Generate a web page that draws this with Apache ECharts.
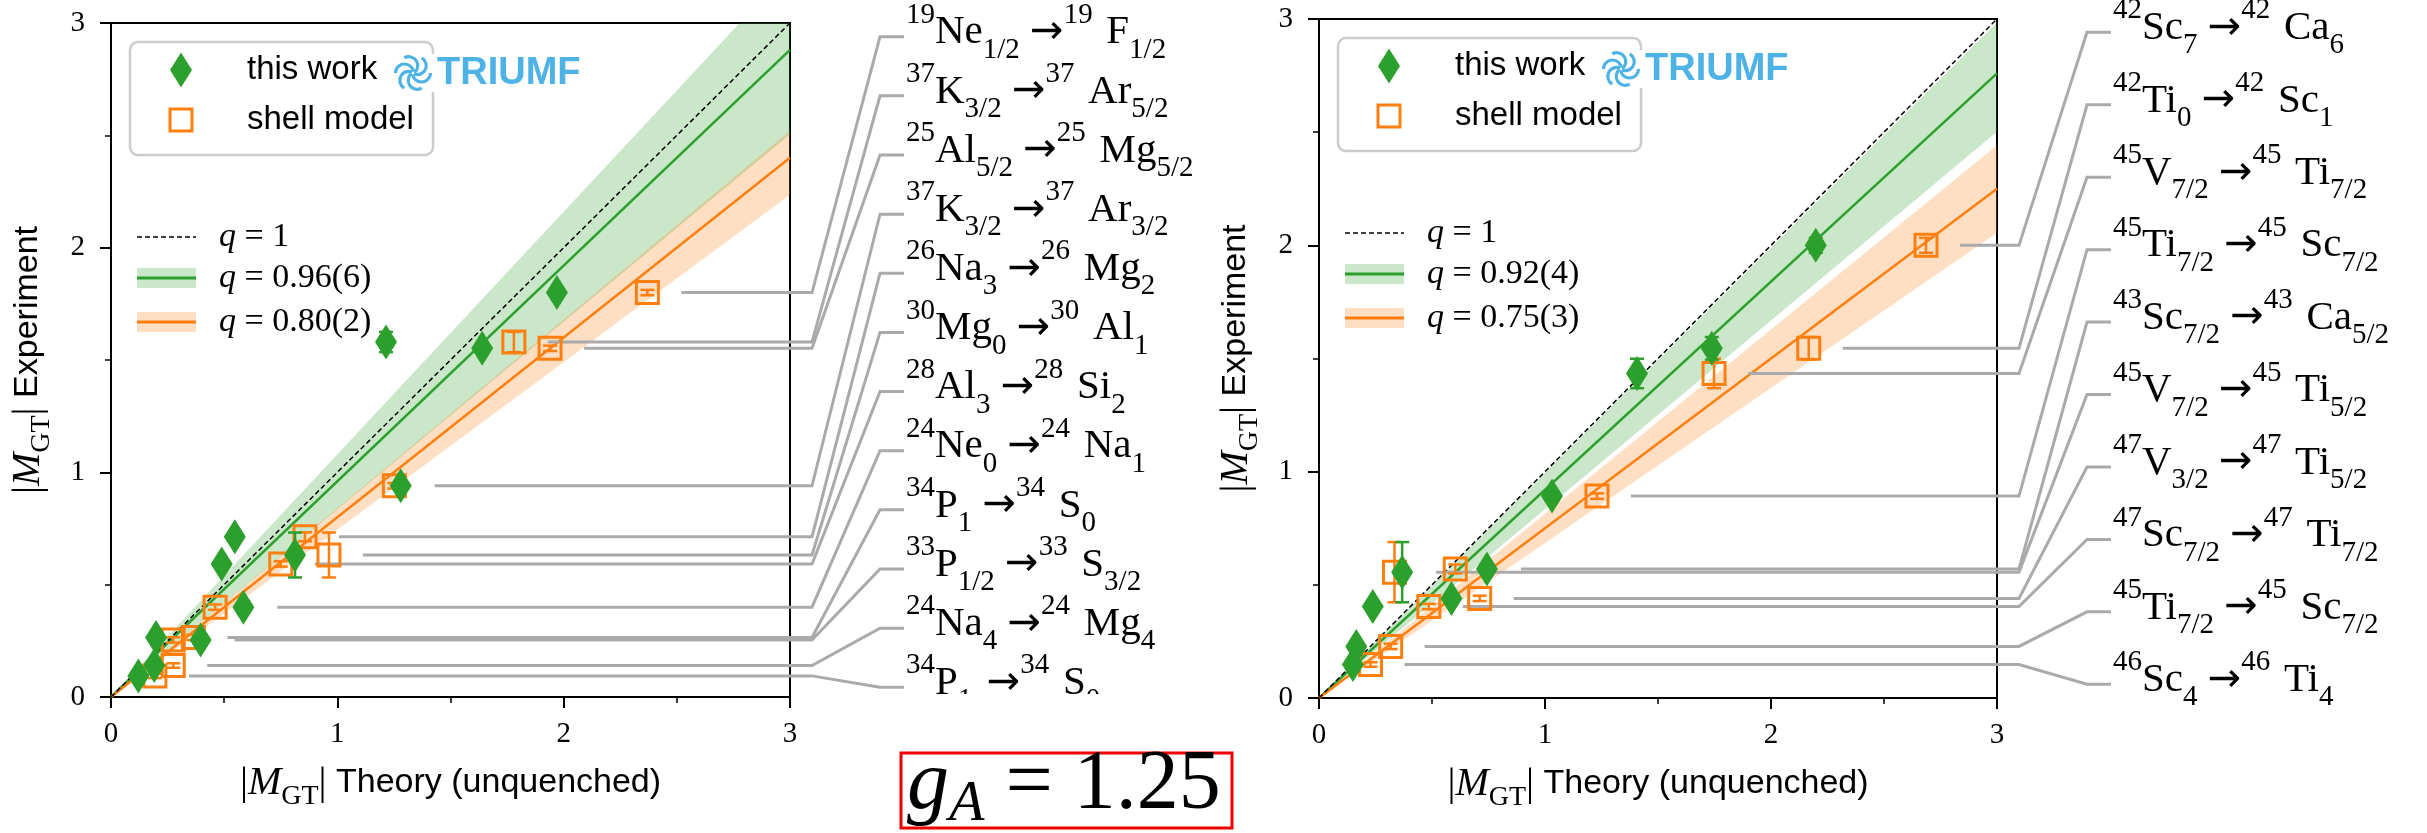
<!DOCTYPE html>
<html><head><meta charset="utf-8">
<script src="https://cdn.jsdelivr.net/npm/echarts@6/dist/echarts.min.js"></script>
<style>html,body{margin:0;padding:0;background:#fff}#c{width:2427px;height:833px}</style>
</head><body><div id="c"></div>
<script>
// ---------------- DATA ----------------
const axisTicks = [0, 1, 2, 3];
const xTitle = ['|', 'M', 'GT', '|', ' Theory (unquenched)'];
const yTitle = ['|', 'M', 'GT', '|', ' Experiment'];

// Left panel (sd shell)
const leftLabels = [
  '^{19}Ne_{1/2} →^{19} F_{1/2}',
  '^{37}K_{3/2} →^{37} Ar_{5/2}',
  '^{25}Al_{5/2} →^{25} Mg_{5/2}',
  '^{37}K_{3/2} →^{37} Ar_{3/2}',
  '^{26}Na_{3} →^{26} Mg_{2}',
  '^{30}Mg_{0} →^{30} Al_{1}',
  '^{28}Al_{3} →^{28} Si_{2}',
  '^{24}Ne_{0} →^{24} Na_{1}',
  '^{34}P_{1} →^{34} S_{0}',
  '^{33}P_{1/2} →^{33} S_{3/2}',
  '^{24}Na_{4} →^{24} Mg_{4}',
  '^{34}P_{1x}→^{34} S_{0 x}'
];
const leftExp        = [1.80, 1.58, 1.552, 0.94, 0.713, 0.632, 0.592, 0.40, 0.265, 0.254, 0.14, 0.094];
const leftExpErr     = [0.012, 0.045, 0.012, 0.012, 0.02, 0.10, 0.012, 0.012, 0.012, 0.012, 0.01, 0.01];
const leftThisWork   = [1.97, 1.215, 1.64, 1.28, 0.547, 0.813, 0.489, 0.585, 0.199, 0.396, 0.191, 0.121];
const leftShellModel = [2.37, 1.78, 1.94, 1.252, 0.857, 0.963, 0.75, 0.46, 0.364, 0.275, 0.275, 0.194];
const leftFitQ       = [1, 0.96, 0.80];
const leftFitBandLo  = [null, 0.835, 0.745];
const leftFitBandHi  = [null, 1.08, 0.84];
const leftFitText    = ['1', '0.96(6)', '0.80(2)'];

// Right panel (fp shell)
const rightLabels = [
  '^{42}Sc_{7} →^{42} Ca_{6}',
  '^{42}Ti_{0} →^{42} Sc_{1}',
  '^{45}V_{7/2} →^{45} Ti_{7/2}',
  '^{45}Ti_{7/2} →^{45} Sc_{7/2}',
  '^{43}Sc_{7/2} →^{43} Ca_{5/2}',
  '^{45}V_{7/2} →^{45} Ti_{5/2}',
  '^{47}V_{3/2} →^{47} Ti_{5/2}',
  '^{47}Sc_{7/2} →^{47} Ti_{7/2}',
  '^{45}Ti_{7/2} →^{45} Sc_{7/2}',
  '^{46}Sc_{4} →^{46} Ti_{4}'
];
const rightExp        = [2.00, 1.545, 1.434, 0.892, 0.570, 0.556, 0.440, 0.404, 0.228, 0.148];
const rightExpErr     = [0.033, 0.05, 0.065, 0.012, 0.02, 0.133, 0.012, 0.012, 0.012, 0.01];
const rightThisWork   = [2.198, 1.738, 1.407, 1.031, 0.743, 0.368, 0.586, 0.238, 0.165, 0.150];
const rightShellModel = [2.686, 2.167, 1.748, 1.23, 0.603, 0.334, 0.711, 0.486, 0.317, 0.228];
const rightFitQ       = [1, 0.92, 0.75];
const rightFitBandLo  = [null, 0.834, 0.685];
const rightFitBandHi  = [null, 0.995, 0.814];
const rightFitText    = ['1', '0.92(4)', '0.75(3)'];

const legendNames = ['this work', 'shell model'];
const gAText = '1.25';

// ---------------- STYLE / LAYOUT ----------------
const SERIF = '"Liberation Serif","DejaVu Serif",serif';
const SANS = '"Liberation Sans","DejaVu Sans",sans-serif';
const GREEN = '#2ca02c', ORANGE = '#ff7f0e', GRAY = '#aaaaaa';
const GREEN_BAND = 'rgba(44,160,44,0.25)', ORANGE_BAND = 'rgba(255,127,14,0.25)';
const AX_MAX = 3;

const grids = [
  {left: 111, top: 23, width: 679, height: 674},
  {left: 1319, top: 19, width: 678, height: 679}
];
const labelSpread = [{first: 13.7, last: 9.7}, {first: 13.3, last: 13.7}];

function toRich(s) {
  let out = '';
  const re = /(\^|_)\{([^}]*)\}|([^\^_]+)/g;
  let m;
  while ((m = re.exec(s))) {
    if (m[1] === '^') out += '{p|' + m[2] + '}';
    else if (m[1] === '_') out += '{b|' + m[2] + '}';
    else {
      m[3].split('→').forEach((part, j) => {
        if (j > 0) out += '{r|→}';
        if (part.length) out += '{m|' + part.replace(/ (?=\S)/, '\u2004') + '}';
      });
    }
  }
  return out;
}
const LBL_L = 64;
const labelRich = {
  m: {fontFamily: SERIF, fontSize: 41, lineHeight: LBL_L, fill: '#000'},
  r: {fontFamily: '"DejaVu Sans",sans-serif', fontSize: 40, lineHeight: LBL_L, fill: '#000'},
  p: {fontFamily: SERIF, fontSize: 29, lineHeight: LBL_L - 16, verticalAlign: 'top', fill: '#000'},
  b: {fontFamily: SERIF, fontSize: 29, lineHeight: LBL_L - 22, verticalAlign: 'bottom', fill: '#000'}
};

const titleRich = {
  b: {fontFamily: SERIF, fontSize: 40, lineHeight: 56, fill: '#000'},
  mi: {fontFamily: SERIF, fontStyle: 'italic', fontSize: 40, lineHeight: 56, fill: '#000'},
  sub: {fontFamily: SERIF, fontSize: 28, lineHeight: 36, verticalAlign: 'bottom', fill: '#000'},
  t: {fontFamily: SANS, fontSize: 34, lineHeight: 56, fill: '#000'}
};
function titleText(parts) {
  return '{b|' + parts[0] + '}{mi|' + parts[1] + '}{sub|' + parts[2] + '}{b|' + parts[3] + '}{t|' + parts[4] + '}';
}

function makeAxis(type, idx) {
  const isX = type === 'x';
  return {
    type: 'value', gridIndex: idx, min: 0, max: AX_MAX, interval: 1,
    axisLine: {show: true, onZero: false, lineStyle: {color: '#000', width: 2}},
    axisTick: {show: true, length: 11, lineStyle: {color: '#000', width: 2}},
    minorTick: {show: true, splitNumber: 2, length: 6, lineStyle: {color: '#000', width: 1.5}},
    splitLine: {show: false},
    axisLabel: {
      fontFamily: SERIF, fontSize: 29, color: '#000', margin: isX ? 23 : 26,
      formatter: v => axisTicks.includes(v) ? String(v) : ''
    }
  };
}

function panelSeries(k, P) {
  const s = [];
  // bands
  [[1, GREEN_BAND], [2, ORANGE_BAND]].forEach(([i, col]) => {
    s.push({
      type: 'custom', xAxisIndex: k, yAxisIndex: k, z: 1, silent: true,
      data: [[P.lo[i], P.hi[i]]],
      renderItem: (params, api) => {
        const lo = api.value(0), hi = api.value(1);
        const pts = [[0, 0]];
        if (hi * AX_MAX > AX_MAX) pts.push([AX_MAX / hi, AX_MAX], [AX_MAX, AX_MAX]);
        else pts.push([AX_MAX, AX_MAX * hi]);
        pts.push([AX_MAX, AX_MAX * lo]);
        return {type: 'polygon', shape: {points: pts.map(p => api.coord(p))}, style: {fill: col}};
      }
    });
  });
  // fit lines
  const lineCols = ['#000', GREEN, ORANGE];
  P.q.forEach((q, i) => {
    s.push({
      type: 'line', xAxisIndex: k, yAxisIndex: k, z: i === 0 ? 4 : 3, showSymbol: false, silent: true,
      data: [[0, 0], [AX_MAX, AX_MAX * q]],
      lineStyle: i === 0 ? {color: '#000', width: 1.5, type: [5, 3]} : {color: lineCols[i], width: 2.5}
    });
  });
  // leader lines + labels
  const sp = labelSpread[k];
  s.push({
    type: 'custom', xAxisIndex: k, yAxisIndex: k, z: 5, clip: false, silent: true,
    data: P.exp.map((y, i) => [Math.max(P.tw[i], P.sm[i]), y, i]),
    renderItem: (params, api) => {
      const i = api.value(2);
      const p = api.coord([api.value(0), api.value(1)]);
      const cs = params.coordSys;
      const right = cs.x + cs.width;
      const n = P.labels.length;
      const y0 = cs.y + sp.first, y1 = cs.y + cs.height - sp.last;
      const ly = y0 + (y1 - y0) * i / (n - 1);
      return {type: 'group', children: [
        {type: 'polyline', shape: {points: [[p[0] + 34, p[1]], [right + 22, p[1]], [right + 90, ly], [right + 114, ly]]},
         style: {stroke: GRAY, lineWidth: 3, fill: null}},
        {type: 'text', x: right + 116, y: ly - 4,
         style: {text: toRich(P.labels[i]), rich: labelRich, verticalAlign: 'middle', align: 'left', fill: '#000'}}
      ]};
    }
  });
  // error bars + markers
  function errSeries(xs, col, z) {
    return {
      type: 'custom', xAxisIndex: k, yAxisIndex: k, z: z, silent: true,
      data: xs.map((x, i) => [x, P.exp[i], P.err[i]]),
      renderItem: (params, api) => {
        const x = api.value(0), y = api.value(1), e = api.value(2);
        const a = api.coord([x, y + e]), b = api.coord([x, y - e]);
        const w = 7, st = {stroke: col, lineWidth: 2.5};
        return {type: 'group', children: [
          {type: 'line', shape: {x1: a[0], y1: a[1], x2: b[0], y2: b[1]}, style: st},
          {type: 'line', shape: {x1: a[0] - w, y1: a[1], x2: a[0] + w, y2: a[1]}, style: st},
          {type: 'line', shape: {x1: b[0] - w, y1: b[1], x2: b[0] + w, y2: b[1]}, style: st}
        ]};
      }
    };
  }
  s.push(errSeries(P.sm, ORANGE, 6));
  s.push({
    type: 'scatter', name: legendNames[1], xAxisIndex: k, yAxisIndex: k, z: 7, silent: true,
    symbol: 'rect', symbolSize: 22,
    itemStyle: {color: 'rgba(0,0,0,0)', borderColor: ORANGE, borderWidth: 3, opacity: 1},
    data: P.sm.map((x, i) => [x, P.exp[i]])
  });
  s.push(errSeries(P.tw, GREEN, 8));
  s.push({
    type: 'scatter', name: legendNames[0], xAxisIndex: k, yAxisIndex: k, z: 9, silent: true,
    symbol: 'diamond', symbolSize: [22, 35],
    itemStyle: {color: GREEN, opacity: 1},
    data: P.tw.map((x, i) => [x, P.exp[i]])
  });
  return s;
}

function legendGraphics(g, qText) {
  const gx = g.left, gy = g.top;
  const els = [];
  els.push({type: 'rect', z: 20, shape: {x: gx + 19, y: gy + 19, width: 303, height: 113, r: 8},
    style: {fill: 'rgba(255,255,255,0.8)', stroke: '#cccccc', lineWidth: 2.5}});
  const cx = gx + 70;
  els.push({type: 'polygon', z: 21, shape: {points: [[cx, gy + 29.5], [cx + 11, gy + 47], [cx, gy + 64.5], [cx - 11, gy + 47]]},
    style: {fill: GREEN}});
  els.push({type: 'text', z: 21, x: gx + 136, y: gy + 47,
    style: {text: legendNames[0], fontFamily: SANS, fontSize: 33, fill: '#000', verticalAlign: 'middle'}});
  els.push({type: 'rect', z: 21, shape: {x: cx - 11, y: gy + 86, width: 22, height: 22},
    style: {fill: 'none', stroke: ORANGE, lineWidth: 3}});
  els.push({type: 'text', z: 21, x: gx + 136, y: gy + 97,
    style: {text: legendNames[1], fontFamily: SANS, fontSize: 33, fill: '#000', verticalAlign: 'middle'}});
  // TRIUMF logo
  const lx = gx + 302, ly = gy + 50;
  els.push({type: 'rect', z: 22, shape: {x: lx - 20, y: ly - 19, width: 196, height: 38}, style: {fill: '#fff'}});
  for (let j = 0; j < 6; j++) {
    const a = j * Math.PI / 3;
    els.push({type: 'arc', z: 23,
      shape: {cx: lx + 8.5 * Math.cos(a), cy: ly + 8.5 * Math.sin(a), r: 9, startAngle: a, endAngle: a + Math.PI * 0.95},
      style: {stroke: '#4db3e6', lineWidth: 3.2, fill: null}});
  }
  els.push({type: 'text', z: 23, x: gx + 326, y: ly + 1,
    style: {text: 'TRIUMF', fontFamily: SANS, fontWeight: 'bold', fontSize: 38, fill: '#4db3e6', verticalAlign: 'middle'}});
  // q legend
  const qRich = {
    qi: {fontFamily: SERIF, fontStyle: 'italic', fontSize: 34, fill: '#000'},
    n: {fontFamily: SERIF, fontSize: 34, fill: '#000'}
  };
  const rows = [gy + 214, gy + 255, gy + 299];
  els.push({type: 'line', z: 21, shape: {x1: gx + 26, y1: rows[0], x2: gx + 85, y2: rows[0]},
    style: {stroke: '#000', lineWidth: 1.5, lineDash: [5, 3]}});
  els.push({type: 'rect', z: 21, shape: {x: gx + 26, y: rows[1] - 10, width: 59, height: 20}, style: {fill: GREEN_BAND}});
  els.push({type: 'line', z: 22, shape: {x1: gx + 26, y1: rows[1], x2: gx + 85, y2: rows[1]}, style: {stroke: GREEN, lineWidth: 3}});
  els.push({type: 'rect', z: 21, shape: {x: gx + 26, y: rows[2] - 10, width: 59, height: 20}, style: {fill: ORANGE_BAND}});
  els.push({type: 'line', z: 22, shape: {x1: gx + 26, y1: rows[2], x2: gx + 85, y2: rows[2]}, style: {stroke: ORANGE, lineWidth: 3}});
  qText.forEach((t, i) => {
    els.push({type: 'text', z: 21, x: gx + 108, y: rows[i],
      style: {text: '{qi|q}{n| = ' + t + '}', rich: qRich, verticalAlign: 'middle'}});
  });
  // axis titles
  els.push({type: 'text', z: 21, x: gx + g.width / 2, y: gy + g.height + 86,
    style: {text: titleText(xTitle), rich: titleRich, align: 'center', verticalAlign: 'middle'}});
  els.push({type: 'text', z: 21, x: gx - 83, y: gy + g.height / 2, rotation: Math.PI / 2,
    style: {text: titleText(yTitle), rich: titleRich, align: 'center', verticalAlign: 'middle'}});
  return els;
}

const panels = [
  {labels: leftLabels, exp: leftExp, err: leftExpErr, tw: leftThisWork, sm: leftShellModel,
   q: leftFitQ, lo: leftFitBandLo, hi: leftFitBandHi, qText: leftFitText},
  {labels: rightLabels, exp: rightExp, err: rightExpErr, tw: rightThisWork, sm: rightShellModel,
   q: rightFitQ, lo: rightFitBandLo, hi: rightFitBandHi, qText: rightFitText}
];

let series = [];
panels.forEach((P, k) => { series = series.concat(panelSeries(k, P)); });

let graphic = [];
panels.forEach((P, k) => { graphic = graphic.concat(legendGraphics(grids[k], P.qText)); });
// clip of the last (cut-off) label in the left column
graphic.push({type: 'rect', z: 30, shape: {x: 898, y: 694, width: 330, height: 50}, style: {fill: '#fff'}});
// g_A box
graphic.push({type: 'rect', z: 30, shape: {x: 901, y: 753, width: 331, height: 75}, style: {fill: '#fff', stroke: '#ee0000', lineWidth: 3}});
graphic.push({type: 'text', z: 31, x: 907, y: 786,
  style: {
    text: '{g|g}{a|A}{n| = ' + gAText + '}',
    rich: {
      g: {fontFamily: SERIF, fontStyle: 'italic', fontSize: 84, lineHeight: 96, fill: '#000'},
      a: {fontFamily: SERIF, fontStyle: 'italic', fontSize: 58, lineHeight: 52, verticalAlign: 'bottom', fill: '#000'},
      n: {fontFamily: SERIF, fontSize: 84, lineHeight: 96, fill: '#000'}
    },
    verticalAlign: 'middle', align: 'left'
  }});

const option = {
  animation: false,
  backgroundColor: '#fff',
  textStyle: {fontFamily: SERIF},
  grid: grids.map(g => Object.assign({show: true, borderColor: '#000', borderWidth: 2, backgroundColor: 'transparent', containLabel: false}, g)),
  xAxis: [makeAxis('x', 0), makeAxis('x', 1)],
  yAxis: [makeAxis('y', 0), makeAxis('y', 1)],
  series: series,
  graphic: graphic
};

const chart = echarts.init(document.getElementById('c'), null, {renderer: 'canvas'});
chart.setOption(option);
</script></body></html>
